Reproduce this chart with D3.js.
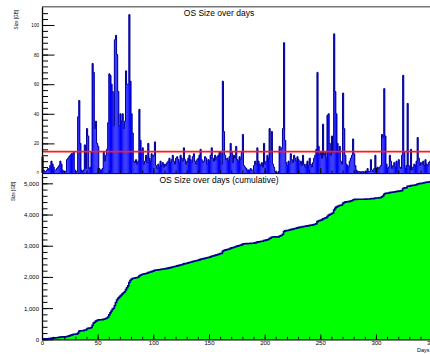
<!DOCTYPE html>
<html>
<head>
<meta charset="utf-8">
<script src="https://cdn.jsdelivr.net/npm/d3@7"></script>
<style>
  body { margin: 0; background: #fff; overflow: hidden; }
  svg { display: block; }
  text { font-family: "Liberation Sans", Arial, sans-serif; fill: #000; }
</style>
</head>
<body>
<script>
// OS size written per day, in GB (one bin per day, day 0 .. 349)
var sizePerDay = [
  11, 2, 1, 1, 2, 3, 2, 5, 8, 6,
  4, 2, 2, 3, 4, 5, 8, 6, 2, 1,
  1, 1, 9, 10, 11, 12, 13, 13, 14, 2,
  1, 1, 38, 49, 20, 2, 1, 2, 19, 3,
  30, 25, 3, 4, 14, 74, 68, 30, 35, 20,
  18, 3, 2, 2, 3, 14, 8, 12, 16, 34,
  67, 66, 60, 55, 32, 90, 93, 80, 55, 32,
  40, 35, 40, 30, 35, 69, 60, 60, 107, 62,
  40, 27, 8, 7, 9, 6, 8, 43, 22, 15,
  17, 6, 8, 12, 7, 20, 10, 8, 13, 11,
  12, 21, 5, 3, 6, 4, 8, 5, 7, 4,
  6, 5, 7, 8, 10, 7, 9, 12, 8, 6,
  10, 11, 9, 7, 12, 10, 8, 17, 9, 6,
  8, 10, 12, 9, 7, 11, 13, 8, 6, 9,
  10, 12, 16, 9, 7, 8, 11, 10, 6, 9,
  8, 12, 17, 10, 8, 12, 9, 11, 12, 14,
  14, 6, 62, 28, 12, 9, 10, 8, 11, 20,
  14, 7, 12, 10, 18, 9, 8, 11, 9, 14,
  26, 5, 4, 3, 2, 2, 2, 3, 2, 2,
  5, 8, 6, 17, 8, 6, 5, 7, 4, 20,
  6, 8, 12, 10, 30, 14, 28, 6, 4, 1,
  0, 0, 1, 18, 16, 17, 30, 88, 22, 7,
  5, 8, 6, 13, 9, 7, 12, 10, 8, 11,
  9, 6, 8, 5, 12, 6, 4, 6, 8, 5,
  10, 6, 4, 7, 10, 12, 16, 68, 18, 12,
  14, 10, 33, 12, 14, 10, 39, 40, 20, 12,
  25, 14, 94, 55, 40, 20, 15, 18, 8, 6,
  54, 30, 12, 6, 5, 4, 8, 10, 12, 23,
  13, 5, 2, 1, 1, 1, 0, 1, 1, 0,
  1, 1, 3, 1, 1, 9, 2, 1, 3, 12,
  2, 4, 3, 4, 5, 26, 24, 57, 25, 6,
  3, 4, 12, 8, 3, 5, 7, 4, 8, 6,
  9, 4, 3, 12, 66, 14, 3, 5, 47, 5,
  2, 16, 2, 4, 6, 5, 8, 24, 10, 5,
  7, 6, 8, 5, 9, 6, 5, 7, 8, 6
];

// Texts and tick values
var titleTop = "OS Size over days";
var titleBottom = "OS Size over days (cumulative)";
var yTitle = "Size [GB]";
var xTitle = "Days";
var topTicks = [0, 20, 40, 60, 80, 100];
var bottomTicks = [0, 1000, 2000, 3000, 4000, 5000];
var dayTicks = [0, 50, 100, 150, 200, 250, 300, 350];

//Derived series: running total and mean per day.
var cumulative = Array.from(d3.cumsum(sizePerDay));
var meanSize = d3.mean(sizePerDay);

//Layout (pixels).
var width = 430, height = 354;
var left = 42;
var headroom = 1.05;

var svg = d3.select("body").append("svg")
  .attr("width", width)
  .attr("height", height);

//Shared x scale for both pads.
var x = d3.scaleLinear().domain([0, 350]).range([left, 431.6]);

//Helper: step outline points for a histogram.
function stepPoints(values) {
  var pts = [[0, 0]];
  values.forEach(function (v, i) {
    pts.push([i, v]);
    pts.push([i + 1, v]);
  });
  pts.push([values.length, 0]);
  return pts;
}

/* ---------- top pad ---------- */
var yTop = d3.scaleLinear()
  .domain([0, headroom * d3.max(sizePerDay)])
  .range([173, 6.7]);

var topPad = svg.append("g");

//bars
topPad.selectAll("rect.bar")
  .data(sizePerDay)
  .enter().append("rect")
  .attr("class", "bar")
  .attr("x", function (d, i) { return x(i); })
  .attr("width", function (d, i) { return x(i + 1) - x(i); })
  .attr("y", function (d) { return yTop(d); })
  .attr("height", function (d) { return yTop(0) - yTop(d); })
  .attr("fill", "#0000ff");

//outline
var topLine = d3.line()
  .x(function (p) { return x(p[0]); })
  .y(function (p) { return yTop(p[1]); });

topPad.append("path")
  .attr("d", topLine(stepPoints(sizePerDay)))
  .attr("fill", "none")
  .attr("stroke", "#000099")
  .attr("stroke-width", 1);

//mean line
topPad.append("line")
  .attr("x1", x(0)).attr("x2", x(350))
  .attr("y1", yTop(meanSize)).attr("y2", yTop(meanSize))
  .attr("stroke", "#ff1a1a")
  .attr("stroke-width", 1.6);

//frame top
topPad.append("line")
  .attr("x1", left).attr("x2", width)
  .attr("y1", 6.7).attr("y2", 6.7)
  .attr("stroke", "#777")
  .attr("stroke-width", 1.5);

//y axis: minor and major ticks
topPad.append("g")
  .attr("transform", "translate(" + left + ",0)")
  .call(d3.axisLeft(yTop).tickValues(d3.range(0, 112, 4)).tickSizeInner(-6).tickSizeOuter(0).tickFormat(""))
  .call(function (g) { g.select(".domain").remove(); });

topPad.append("g")
  .attr("transform", "translate(" + left + ",0)")
  .call(d3.axisLeft(yTop).tickValues(topTicks).tickSizeInner(-12.5).tickSizeOuter(0).tickPadding(3))
  .call(function (g) {
    g.select(".domain").attr("stroke-width", 1.3);
    g.selectAll("text").style("font-size", "4.6px").attr("fill", "#000");
  });

//x axis ticks of the top pad
topPad.append("g")
  .attr("transform", "translate(0,173)")
  .call(d3.axisBottom(x).tickValues(d3.range(0, 351, 10)).tickSizeInner(-2.5).tickSizeOuter(0).tickFormat(""))
  .call(function (g) { g.select(".domain").remove(); });
topPad.append("g")
  .attr("transform", "translate(0,173)")
  .call(d3.axisBottom(x).tickValues(dayTicks).tickSizeInner(-5).tickSizeOuter(0).tickFormat(""))
  .call(function (g) { g.select(".domain").remove(); });

//title, y title
topPad.append("text")
  .attr("x", 219).attr("y", 16)
  .attr("text-anchor", "middle")
  .style("font-size", "8.5px")
  .attr("fill", "#333")
  .text(titleTop);

topPad.append("text")
  .attr("transform", "translate(17.5,10) rotate(-90)")
  .attr("text-anchor", "end")
  .style("font-size", "4.6px")
  .text(yTitle);

/* ---------- bottom pad ---------- */
var bottomPad = svg.append("g");

bottomPad.append("rect")
  .attr("x", 0).attr("y", 173.6)
  .attr("width", width).attr("height", height - 173.6)
  .attr("fill", "#fff");

var yBot = d3.scaleLinear()
  .domain([0, headroom * d3.max(cumulative)])
  .range([339.3, 173.6]);

//green area
var botLine = d3.line()
  .x(function (p) { return x(p[0]); })
  .y(function (p) { return yBot(p[1]); });

var cumPts = stepPoints(cumulative);

bottomPad.append("path")
  .attr("d", botLine(cumPts) + "Z")
  .attr("fill", "#00ff00")
  .attr("stroke", "none");

//outline along the top of the steps
bottomPad.append("path")
  .attr("d", botLine(cumPts.slice(1, cumPts.length - 1)))
  .attr("fill", "none")
  .attr("stroke", "#00008f")
  .attr("stroke-width", 1.6);

//frame top line
bottomPad.append("line")
  .attr("x1", left).attr("x2", width)
  .attr("y1", 173.6).attr("y2", 173.6)
  .attr("stroke", "#000")
  .attr("stroke-width", 1);

//y axis
bottomPad.append("g")
  .attr("transform", "translate(" + left + ",0)")
  .call(d3.axisLeft(yBot).tickValues(d3.range(0, 5300, 200)).tickSizeInner(-5.5).tickSizeOuter(0).tickFormat(""))
  .call(function (g) { g.select(".domain").remove(); });

bottomPad.append("g")
  .attr("transform", "translate(" + left + ",0)")
  .call(d3.axisLeft(yBot).tickValues(bottomTicks).tickSizeInner(-11).tickSizeOuter(0).tickPadding(3))
  .call(function (g) {
    g.select(".domain").attr("stroke-width", 1.3);
    g.selectAll("text").style("font-size", "6px").attr("fill", "#000");
  });

//x axis
bottomPad.append("g")
  .attr("transform", "translate(0,339.3)")
  .call(d3.axisBottom(x).tickValues(d3.range(0, 351, 10)).tickSizeInner(-2.5).tickSizeOuter(0).tickFormat(""))
  .call(function (g) { g.select(".domain").remove(); });

bottomPad.append("g")
  .attr("transform", "translate(0,339.3)")
  .call(d3.axisBottom(x).tickValues(dayTicks).tickSizeInner(-5).tickSizeOuter(0).tickPadding(1.5))
  .call(function (g) {
    g.select(".domain").attr("stroke-width", 1.2);
    g.selectAll("text").style("font-size", "6px").attr("fill", "#000");
  });

//titles
bottomPad.append("text")
  .attr("x", 219).attr("y", 183)
  .attr("text-anchor", "middle")
  .style("font-size", "8.5px")
  .attr("fill", "#333")
  .text(titleBottom);

bottomPad.append("text")
  .attr("transform", "translate(15,181.7) rotate(-90)")
  .attr("text-anchor", "end")
  .style("font-size", "4.6px")
  .text(yTitle);

bottomPad.append("text")
  .attr("x", 429.5).attr("y", 351.5)
  .attr("text-anchor", "end")
  .style("font-size", "5.5px")
  .text(xTitle);
</script>
</body>
</html>
